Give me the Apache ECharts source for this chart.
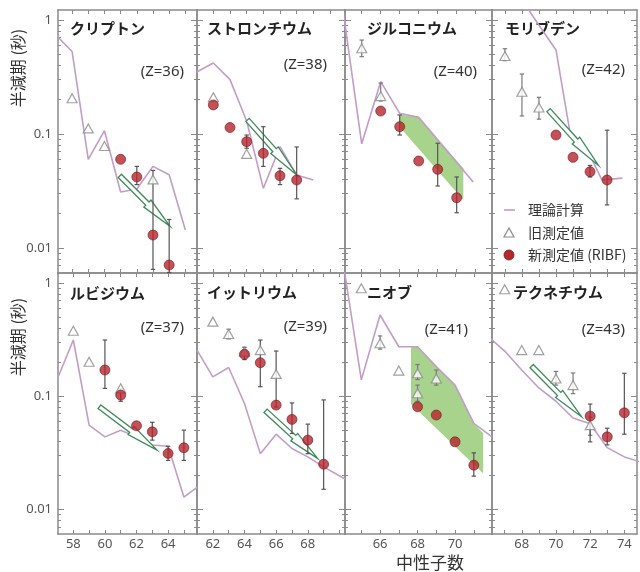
<!DOCTYPE html>
<html>
<head>
<meta charset="utf-8">
<script src="https://cdn.jsdelivr.net/npm/echarts@6/dist/echarts.min.js"></script>
<style>
  html, body { margin: 0; padding: 0; background: #fff; }
  #Chart { width: 640px; height: 572px; }
</style>
</head>
<body>
<div id="Chart"></div>
<script>
var Chart = echarts.init(document.getElementById('Chart'));

// ---- data (N = neutron number, value = half-life in s) ----
var titles = ['クリプトン', 'ストロンチウム', 'ジルコニウム', 'モリブデン', 'ルビジウム', 'イットリウム', 'ニオブ', 'テクネチウム'];
var zLabels = ['(Z=36)', '(Z=38)', '(Z=40)', '(Z=42)', '(Z=37)', '(Z=39)', '(Z=41)', '(Z=43)'];
var xTickLabels = [[58, 60, 62, 64], [62, 64, 66, 68], [66, 68, 70], [68, 70, 72, 74]];
var yTickLabels = [0.01, 0.1, 1];

var krTheory = [[57, 0.74], [58, 0.53], [59, 0.06], [60, 0.107], [61, 0.031], [62, 0.033], [63, 0.052], [64, 0.044], [65, 0.0144]];
var krOld = [[58, 0.206], [59, 0.112], [60, 0.0785], [63, 0.04]];
var krOldErr = [];
var krNew = [[61, 0.06], [62, 0.042], [63, 0.013], [64, 0.0071]];
var krNewErr = [[62, 0.036, 0.052], [63, 0.0065, 0.048], [64, 0.0061, 0.0178]];
var krArrow = [60.95, 0.043, 64.05, 0.0155];

var srTheory = [[61, 0.35], [62, 0.42], [63, 0.30], [64, 0.13], [65, 0.0334], [66, 0.0774], [67, 0.0437], [68, 0.0395]];
var srOld = [[62, 0.21], [64, 0.067]];
var srOldErr = [];
var srNew = [[62, 0.18], [63, 0.114], [64, 0.0857], [65, 0.0677], [66, 0.043], [67, 0.0395]];
var srNewErr = [[64, 0.075, 0.098], [65, 0.052, 0.116], [66, 0.036, 0.05], [67, 0.027, 0.077]];
var srArrow = [64.05, 0.133, 67, 0.0437];

var zrTheory = [[64, 1.27], [65, 0.082], [66, 0.288], [67, 0.152], [68, 0.14], [70.87, 0.038]];
var zrOld = [[65, 0.565], [66, 0.215]];
var zrOldErr = [[65, 0.477, 0.667], [66, 0.195, 0.28]];
var zrNew = [[66, 0.159], [67, 0.116], [68, 0.058], [69, 0.049], [70, 0.0276]];
var zrNewErr = [[67, 0.098, 0.147], [69, 0.035, 0.083], [70, 0.0204, 0.042]];
var zrBandTop = [[67, 0.148], [68, 0.14], [70.35, 0.05]];
var zrBandBottom = [[67, 0.115], [70.35, 0.0264]];

var moTheory = [[68, 1.5], [69, 0.9], [70, 0.546], [70.8, 0.108], [71.9, 0.07], [72.7, 0.0395], [73.9, 0.041]];
var moOld = [[67, 0.483], [68, 0.235], [69, 0.171]];
var moOldErr = [[67, 0.44, 0.56], [68, 0.144, 0.336], [69, 0.135, 0.21]];
var moNew = [[70, 0.098], [71, 0.0624], [72, 0.0467], [73, 0.0395]];
var moNewErr = [[72, 0.042, 0.053], [73, 0.0239, 0.108]];
var moArrow = [69.56, 0.162, 72.5, 0.053];

var rbTheory = [[57, 0.143], [58, 0.313], [59, 0.0553], [60, 0.0436], [61, 0.05], [62, 0.0436], [63, 0.037], [64, 0.036], [65, 0.0128], [65.85, 0.0157]];
var rbOld = [[58, 0.378], [59, 0.201], [61, 0.117]];
var rbOldErr = [];
var rbNew = [[60, 0.17], [61, 0.102], [62, 0.0546], [63, 0.0483], [64, 0.0311], [65, 0.0349]];
var rbNewErr = [[60, 0.117, 0.313], [61, 0.09, 0.115], [63, 0.0408, 0.0587], [64, 0.027, 0.036], [65, 0.027, 0.05]];
var rbArrow = [59.65, 0.0805, 63.3, 0.0333];

var yTheory = [[61, 0.255], [62, 0.148], [63, 0.179], [64, 0.086], [65, 0.031], [66, 0.0461], [67, 0.0344], [68, 0.029], [69, 0.0237], [70.35, 0.0185]];
var yOld = [[62, 0.455], [63, 0.354], [64, 0.247], [65, 0.255], [66, 0.157]];
var yOldErr = [[63, 0.32, 0.39]];
var yNew = [[64, 0.234], [65, 0.197], [66, 0.0832], [67, 0.0622], [68, 0.0408], [69, 0.025]];
var yNewErr = [[64, 0.21, 0.27], [65, 0.121, 0.313], [66, 0.08, 0.25], [67, 0.0467, 0.087], [68, 0.031, 0.0565], [69, 0.015, 0.0925]];
var yArrow = [65.33, 0.0741, 68.63, 0.028];

var nbTheory = [[64, 1.63], [65, 0.139], [66, 0.521], [67, 0.273], [68, 0.273], [69, 0.182], [70, 0.125], [71, 0.0573], [71.97, 0.0436]];
var nbOld = [[65, 0.897], [66, 0.293], [67, 0.168], [68, 0.159], [68, 0.106], [69, 0.143]];
var nbOldErr = [[66, 0.26, 0.34], [68, 0.14, 0.19], [68, 0.09, 0.125], [69, 0.125, 0.17]];
var nbNew = [[68, 0.0805], [69, 0.068], [70, 0.0394], [71, 0.0245]];
var nbNewErr = [[71, 0.0196, 0.0315]];
var nbBandTop = [[67.65, 0.27], [68, 0.273], [69, 0.182], [70, 0.125], [71, 0.0573], [71.5, 0.047]];
var nbBandBottom = [[67.65, 0.085], [71.5, 0.0207]];

var tcTheory = [[66, 0.34], [67, 0.25], [68, 0.17], [69, 0.118], [70, 0.09], [71, 0.064], [72, 0.057], [73, 0.035], [74, 0.029], [75, 0.026]];
var tcOld = [[67, 0.88], [68, 0.255], [69, 0.255], [70, 0.143], [71, 0.125], [72, 0.0553]];
var tcOldErr = [[70, 0.125, 0.165], [71, 0.105, 0.16], [72, 0.045, 0.065]];
var tcNew = [[72, 0.0665], [73, 0.0436], [74, 0.0711]];
var tcNewErr = [[72, 0.0394, 0.085], [73, 0.037, 0.052], [74, 0.046, 0.159]];
var tcArrow = [68.58, 0.184, 71.5, 0.0656];

var xRanges = [[57.13, 65.72], [61.02, 69.9], [64.12, 71.86], [66.24, 74.76], [57.03, 65.83], [61, 70.35], [64.13, 71.97], [66.26, 74.74]];

var panels = [
    {theory: krTheory, old: krOld, oldErr: krOldErr, neu: krNew, neuErr: krNewErr, arrow: krArrow},
    {theory: srTheory, old: srOld, oldErr: srOldErr, neu: srNew, neuErr: srNewErr, arrow: srArrow},
    {theory: zrTheory, old: zrOld, oldErr: zrOldErr, neu: zrNew, neuErr: zrNewErr, bandTop: zrBandTop, bandBottom: zrBandBottom},
    {theory: moTheory, old: moOld, oldErr: moOldErr, neu: moNew, neuErr: moNewErr, arrow: moArrow},
    {theory: rbTheory, old: rbOld, oldErr: rbOldErr, neu: rbNew, neuErr: rbNewErr, arrow: rbArrow},
    {theory: yTheory, old: yOld, oldErr: yOldErr, neu: yNew, neuErr: yNewErr, arrow: yArrow},
    {theory: nbTheory, old: nbOld, oldErr: nbOldErr, neu: nbNew, neuErr: nbNewErr, bandTop: nbBandTop, bandBottom: nbBandBottom},
    {theory: tcTheory, old: tcOld, oldErr: tcOldErr, neu: tcNew, neuErr: tcNewErr, arrow: tcArrow}
];

// ---- layout / style ----
var colLeft = [58, 197, 345, 492];
var colWidth = [139, 148, 147, 145];
var rowTop = [10, 273];
var rowHeight = [263, 261];
var titleX = [70, 207, 367, 505, 70, 207, 367, 513];
var titleY = [28, 28, 28, 28, 293, 292, 292, 292];
var zX = [184, 327, 477, 625, 184, 327, 468, 625];
var zY = [72, 65, 72, 70, 328, 327, 330, 330];

var yMin = 0.00604, yMax = 1.224;
var frameColor = '#8a8a8a';
var theoryColor = '#c49cc8';
var newColor = '#b5262d';
var oldColor = '#8a8a8a';
var arrowColor = '#3e8a5a';
var bandColor = '#a7d38c';
var jp = "'Noto Sans CJK JP', 'Noto Sans', sans-serif";
var latin = "'Noto Sans', 'Liberation Sans', sans-serif";

var minorY = [];
[0.001, 0.01, 0.1].forEach(function (d) {
    for (var k = 2; k <= 9; k++) minorY.push(+(d * k).toPrecision(3));
});

function intTicks(r) {
    var out = [];
    for (var n = Math.ceil(r[0]); n <= Math.floor(r[1]); n++) out.push(n);
    return out;
}

function errRenderer(color) {
    return function (params, api) {
        var x = api.value(0);
        var p1 = api.coord([x, api.value(1)]);
        var p2 = api.coord([x, api.value(2)]);
        var cw = 2.2;
        var st = {stroke: color, lineWidth: 1.2};
        return {type: 'group', children: [
            {type: 'line', shape: {x1: p1[0], y1: p1[1], x2: p2[0], y2: p2[1]}, style: st},
            {type: 'line', shape: {x1: p1[0] - cw, y1: p1[1], x2: p1[0] + cw, y2: p1[1]}, style: st},
            {type: 'line', shape: {x1: p2[0] - cw, y1: p2[1], x2: p2[0] + cw, y2: p2[1]}, style: st}
        ]};
    };
}

function renderArrow(params, api) {
    var s = api.coord([api.value(0), api.value(1)]);
    var t = api.coord([api.value(2), api.value(3)]);
    var dx = t[0] - s[0], dy = t[1] - s[1];
    var L = Math.sqrt(dx * dx + dy * dy);
    var ux = dx / L, uy = dy / L, nx = -uy, ny = ux;
    var w = 2.3, hw = 5, f = 0.55;
    var h = [s[0] + dx * f, s[1] + dy * f];
    var pts = [
        [s[0] + nx * w, s[1] + ny * w],
        [h[0] + nx * w, h[1] + ny * w],
        [h[0] + nx * hw, h[1] + ny * hw],
        [t[0], t[1]],
        [h[0] - nx * hw, h[1] - ny * hw],
        [h[0] - nx * w, h[1] - ny * w],
        [s[0] - nx * w, s[1] - ny * w]
    ];
    return {type: 'polygon', shape: {points: pts}, style: {fill: '#fff', stroke: arrowColor, lineWidth: 1.3}};
}

function bandRenderer(top, bottom) {
    return function (params, api) {
        var pts = top.map(function (p) { return api.coord(p); });
        bottom.slice().reverse().forEach(function (p) { pts.push(api.coord(p)); });
        return {type: 'polygon', shape: {points: pts}, style: {fill: bandColor}};
    };
}

var grids = [], xAxes = [], yAxes = [], series = [];

panels.forEach(function (p, i) {
    var r = i < 4 ? 0 : 1, c = i % 4;
    grids.push({left: colLeft[c], top: rowTop[r], width: colWidth[c], height: rowHeight[r], outerBoundsMode: 'none'});
    var xr = xRanges[i];
    var ticks = intTicks(xr);
    var lineSt = {show: true, onZero: false, lineStyle: {color: frameColor, width: 1.5}};
    xAxes.push({
        gridIndex: i, type: 'value', position: 'bottom', min: xr[0], max: xr[1],
        axisLine: lineSt, splitLine: {show: false},
        axisTick: {inside: true, length: 4, customValues: ticks, lineStyle: {color: frameColor}},
        axisLabel: {show: r === 1, customValues: xTickLabels[c], margin: 4, color: '#555', fontSize: 13, fontFamily: latin}
    });
    xAxes.push({
        gridIndex: i, type: 'value', position: 'top', min: xr[0], max: xr[1],
        axisLine: lineSt, splitLine: {show: false},
        axisTick: {inside: true, length: 4, customValues: ticks, lineStyle: {color: frameColor}},
        axisLabel: {show: false}
    });
    ['left', 'right'].forEach(function (pos) {
        yAxes.push({
            gridIndex: i, type: 'log', logBase: 10, position: pos, min: yMin, max: yMax,
            axisLine: lineSt, splitLine: {show: false},
            axisTick: {inside: true, length: 6, customValues: yTickLabels, lineStyle: {color: frameColor}},
            axisLabel: {show: c === 0 && pos === 'left', customValues: yTickLabels, margin: 6, color: '#555', fontSize: 13, fontFamily: latin,
                formatter: function (v) { return String(+v.toPrecision(3)); }}
        });
        yAxes.push({
            gridIndex: i, type: 'log', logBase: 10, position: pos, min: yMin, max: yMax,
            axisLine: {show: false}, splitLine: {show: false},
            axisTick: {inside: true, length: 3, customValues: minorY, lineStyle: {color: frameColor}},
            axisLabel: {show: false}
        });
    });

    var xi = 2 * i, yi = 4 * i;
    if (p.bandTop) {
        series.push({
            type: 'custom', xAxisIndex: xi, yAxisIndex: yi, z: 1, silent: true,
            renderItem: bandRenderer(p.bandTop, p.bandBottom),
            data: [p.bandTop[0]]
        });
    }
    series.push({
        type: 'line', xAxisIndex: xi, yAxisIndex: yi, z: 2, data: p.theory, showSymbol: false,
        lineStyle: {color: theoryColor, width: 1.6}, clip: true, silent: true
    });
    if (p.arrow) {
        series.push({
            type: 'custom', xAxisIndex: xi, yAxisIndex: yi, z: 3, silent: true,
            renderItem: renderArrow, encode: {x: [0, 2], y: [1, 3]},
            data: [p.arrow]
        });
    }
    series.push({
        type: 'custom', xAxisIndex: xi, yAxisIndex: yi, z: 4, silent: true,
        renderItem: errRenderer('#7a7a7a'), encode: {x: 0, y: [1, 2]}, data: p.oldErr
    });
    series.push({
        type: 'custom', xAxisIndex: xi, yAxisIndex: yi, z: 4, silent: true,
        renderItem: errRenderer('#555555'), encode: {x: 0, y: [1, 2]}, data: p.neuErr
    });
    series.push({
        type: 'scatter', xAxisIndex: xi, yAxisIndex: yi, z: 5, data: p.old, symbol: 'triangle', symbolSize: [10, 9],
        itemStyle: {color: '#fff', borderColor: oldColor, borderWidth: 1.2}
    });
    series.push({
        type: 'scatter', xAxisIndex: xi, yAxisIndex: yi, z: 6, data: p.neu, symbol: 'circle', symbolSize: 10,
        itemStyle: {color: newColor, borderColor: '#7a1a1e', borderWidth: 0.8}
    });
});

var graphics = [];
titles.forEach(function (t, i) {
    graphics.push({type: 'text', x: titleX[i], y: titleY[i], style: {text: t, font: 'bold 15px ' + jp, fill: '#222', align: 'left', verticalAlign: 'middle'}});
    graphics.push({type: 'text', x: zX[i], y: zY[i], style: {text: zLabels[i], font: '15px ' + latin, fill: '#333', align: 'right', verticalAlign: 'middle'}});
});
[68, 337].forEach(function (cy) {
    graphics.push({type: 'text', x: 18, y: cy, rotation: Math.PI / 2,
        style: {text: '半減期 (秒)', font: '16px ' + jp, fill: '#333', align: 'center', verticalAlign: 'middle'}});
});
graphics.push({type: 'text', x: 430, y: 563, style: {text: '中性子数', font: '17px ' + jp, fill: '#333', align: 'center', verticalAlign: 'middle'}});

// legend
graphics.push({type: 'line', shape: {x1: 504, y1: 210, x2: 515, y2: 210}, style: {stroke: theoryColor, lineWidth: 1.6}});
graphics.push({type: 'text', x: 528, y: 210, style: {text: '理論計算', font: '14px ' + jp, fill: '#333', verticalAlign: 'middle'}});
graphics.push({type: 'polygon', shape: {points: [[509, 228], [504, 237], [514, 237]]}, style: {fill: '#fff', stroke: oldColor, lineWidth: 1.2}});
graphics.push({type: 'text', x: 528, y: 233, style: {text: '旧測定値', font: '14px ' + jp, fill: '#333', verticalAlign: 'middle'}});
graphics.push({type: 'circle', shape: {cx: 509, cy: 255, r: 5}, style: {fill: newColor, stroke: '#7a1a1e', lineWidth: 0.8}});
graphics.push({type: 'text', x: 528, y: 255, style: {text: '新測定値 (RIBF)', font: '14px ' + jp, fill: '#333', verticalAlign: 'middle'}});

var ChartOption = {
    animation: false,
    backgroundColor: '#fff',
    grid: grids,
    xAxis: xAxes,
    yAxis: yAxes,
    series: series,
    graphic: graphics
};

Chart.setOption(ChartOption);

window.addEventListener("resize", function () {
    Chart.resize();
});
</script>
</body>
</html>
